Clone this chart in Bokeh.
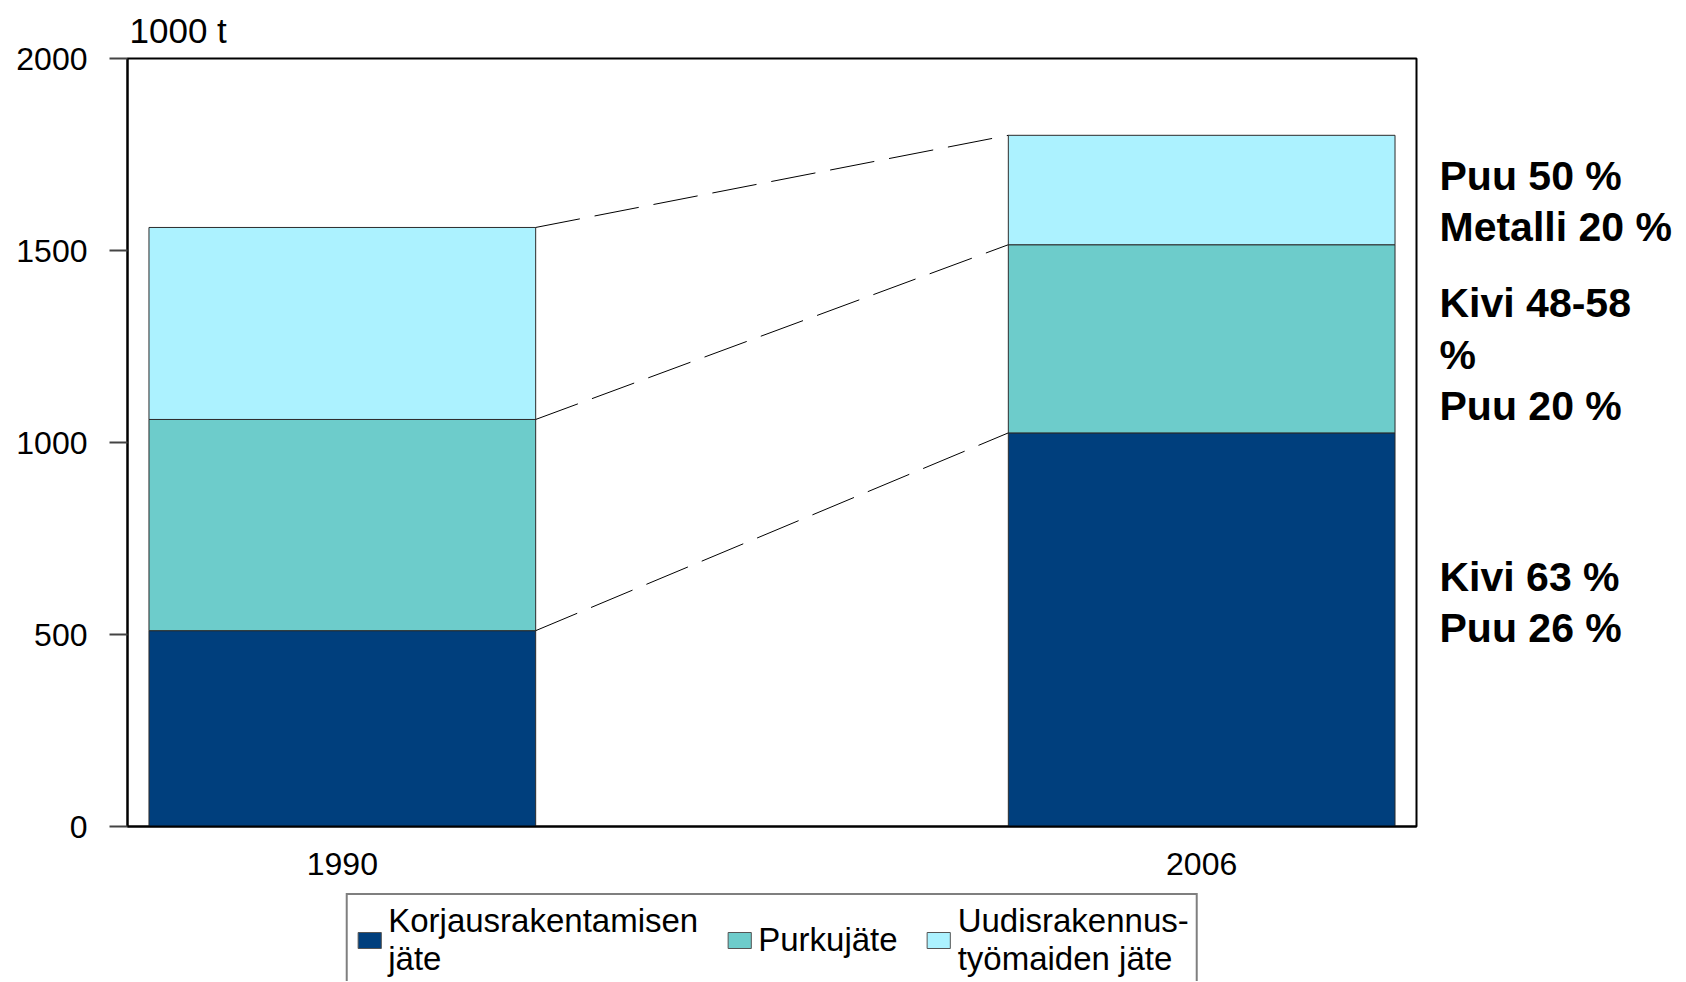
from bokeh.plotting import figure
from bokeh.layouts import row, column
from bokeh.models import (ColumnDataSource, FixedTicker, Legend, LegendItem, Label, Range1d)
from bokeh.embed import file_html
from bokeh.resources import INLINE

# ---- data ----
years = ["1990", "2006"]
korjaus = [510, 1025]
purku = [550, 490]
uudis = [500, 285]
series_keys = ["korjaus", "purku", "uudis"]
series_labels = ["Korjausrakentamisen\njäte", "Purkujäte", "Uudisrakennus-\ntyömaiden jäte"]
colors = ["#003F7D", "#6DCCCB", "#ACF2FF"]
y_ticks = [0, 500, 1000, 1500, 2000]
unit_label = "1000 t"
note_lines = ["Puu 50 %", "Metalli 20 %", "Kivi 48-58", "%", "Puu 20 %", "Kivi 63 %", "Puu 26 %"]
note_anchor = [1695, 1562, 1362, 1229, 1096, 651, 516]

FONT = "Liberation Sans"
bar_w = 0.45
xs = list(range(len(years)))
Y_MAX = 2000

src = ColumnDataSource(dict(x=xs, korjaus=korjaus, purku=purku, uudis=uudis))
yr = Range1d(0, Y_MAX)

p = figure(frame_width=1289, frame_height=768, output_backend="svg", toolbar_location=None,
           x_range=Range1d(-0.25, 1.25), y_range=yr,
           min_border_left=127, min_border_right=2, min_border_top=57, min_border_bottom=62)

renderers = p.vbar_stack(series_keys, x="x", width=bar_w, color=colors, source=src,
                         line_color="#2b2b2b", line_width=1)

# dashed connectors between stack levels
cum1990 = [korjaus[0], korjaus[0] + purku[0], korjaus[0] + purku[0] + uudis[0]]
cum2006 = [korjaus[1], korjaus[1] + purku[1], korjaus[1] + purku[1] + uudis[1]]
p.segment(x0=[xs[0] + bar_w / 2] * 3, y0=cum1990, x1=[xs[1] - bar_w / 2] * 3, y1=cum2006,
          line_color="black", line_width=1, line_dash="45 15")

p.xgrid.visible = False
p.ygrid.visible = False
p.outline_line_color = "black"
p.outline_line_width = 2
p.outline_line_alpha = 1

p.yaxis.ticker = FixedTicker(ticks=y_ticks)
p.yaxis.major_tick_out = 18
p.yaxis.major_tick_in = 0
p.yaxis.minor_tick_line_color = None
p.yaxis.axis_line_width = 2
p.yaxis.major_tick_line_color = "#444444"
p.yaxis.major_tick_line_width = 2
p.yaxis.major_label_text_font = FONT
p.yaxis.major_label_text_font_size = "32px"
p.yaxis.major_label_text_color = "black"
p.yaxis.major_label_standoff = 22

p.xaxis.ticker = FixedTicker(ticks=xs)
p.xaxis.major_label_overrides = {i: y for i, y in zip(xs, years)}
p.xaxis.major_tick_out = 0
p.xaxis.major_tick_in = 0
p.xaxis.minor_tick_line_color = None
p.xaxis.axis_line_width = 2
p.xaxis.major_label_text_font = FONT
p.xaxis.major_label_text_font_size = "32px"
p.xaxis.major_label_text_color = "black"
p.xaxis.major_label_standoff = 26

p.title.text = unit_label
p.title.text_font = FONT
p.title.text_font_size = "35px"
p.title.text_font_style = "normal"
p.title.text_color = "black"
p.title.align = "left"
p.title.offset = 2
p.title.standoff = 17

# side panel with composition notes, sharing the y scale
t = figure(frame_width=262, frame_height=768, output_backend="svg", toolbar_location=None,
           x_range=Range1d(0, 1), y_range=yr, x_axis_location=None, y_axis_location=None,
           min_border_left=0, min_border_right=0, min_border_top=57, min_border_bottom=0)
t.xgrid.visible = False
t.ygrid.visible = False
t.outline_line_color = None
for txt, yv in zip(note_lines, note_anchor):
    t.add_layout(Label(x=0, y=yv, x_offset=21, text=txt, text_font=FONT,
                       text_font_size="41px", text_font_style="bold", text_color="black",
                       text_baseline="middle", text_align="left"))

# legend strip below the chart (legend proxies are the same stacked series, not drawn)
lg = figure(frame_width=1289, frame_height=93, output_backend="svg", toolbar_location=None,
            x_range=Range1d(-0.25, 1.25), y_range=Range1d(0, Y_MAX),
            x_axis_location=None, y_axis_location=None,
            min_border_left=127, min_border_right=2, min_border_top=0, min_border_bottom=0)
lg.xgrid.visible = False
lg.ygrid.visible = False
lg.outline_line_color = None
proxies = lg.vbar_stack(series_keys, x="x", width=bar_w, color=colors, source=src,
                        line_color="#555555", line_width=1)
for r in proxies:
    r.visible = False
items = [LegendItem(label=lab, renderers=[r]) for lab, r in zip(series_labels, proxies)]
legend = Legend(items=items, orientation="horizontal", location="top",
                label_text_font=FONT, label_text_font_size="33px", label_text_color="black",
                glyph_width=29, glyph_height=20, label_standoff=5, spacing=26,
                padding=7, margin=5, border_line_color="black", border_line_width=2,
                background_fill_color="white", label_text_line_height=1.05,
                inactive_fill_alpha=0)
lg.add_layout(legend)

layout = column(row(p, t), lg)
open("out.html", "w").write(file_html(layout, INLINE))
